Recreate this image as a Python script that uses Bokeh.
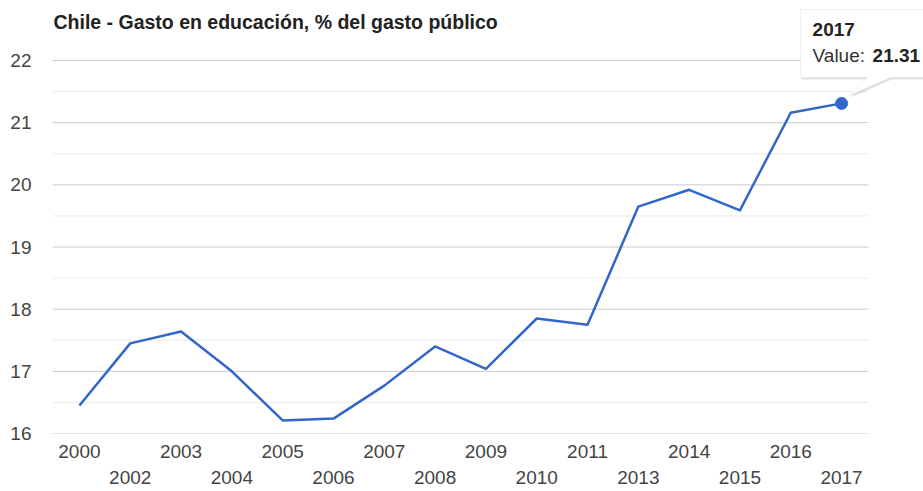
from bokeh.plotting import figure
from bokeh.models import LinearAxis, FixedTicker, Range1d, Label, PolyAnnotation, Grid
from bokeh.embed import file_html
from bokeh.resources import INLINE

# ---- data ----
years = ["2000", "2002", "2003", "2004", "2005", "2006", "2007", "2008",
         "2009", "2010", "2011", "2013", "2014", "2015", "2016", "2017"]
values = [16.45, 17.45, 17.64, 17.00, 16.21, 16.24, 16.77, 17.40,
          17.04, 17.85, 17.75, 19.65, 19.92, 19.59, 21.16, 21.31]
y_ticks = [16, 17, 18, 19, 20, 21, 22]
title_text = "Chile - Gasto en educación, % del gasto público"

# ---- layout ----
W, H = 923, 491
ML, MB = 52, 58            # space for the axes
CHART_R, CHART_T = 55, 60  # margin of the chart area (right / top) inside the frame
fw, fh = W - ML, H - MB    # frame covers everything right/above of the axes
cx0, cx1 = -0.53, len(years) - 1 + 0.53      # chart area x-extent (data)
cy0, cy1 = min(y_ticks), max(y_ticks)        # chart area y-extent (data)
ppx = (fw - CHART_R) / (cx1 - cx0)
ppy = (fh - CHART_T) / (cy1 - cy0)
x0, x1 = cx0, cx1 + CHART_R / ppx
y0, y1 = cy0, cy1 + CHART_T / ppy

FONT = "Liberation Sans"
LINE_COLOR = "#3366CC"
TEXT_SHIFT = 8   # label baseline correction (px, upward)

p = figure(width=W, height=H, x_range=Range1d(x0, x1), y_range=Range1d(y0, y1),
           output_backend="svg", toolbar_location=None,
           x_axis_location=None, y_axis_location=None,
           min_border_left=ML, min_border_right=0,
           min_border_top=0, min_border_bottom=MB)
p.outline_line_color = None
p.background_fill_color = "white"
p.border_fill_color = "white"
p.center = [r for r in p.center if not isinstance(r, Grid)]

# y axis
yax = LinearAxis(ticker=FixedTicker(ticks=y_ticks))
yax.axis_line_color = None
yax.major_tick_line_color = None
yax.minor_tick_line_color = None
yax.major_label_text_font = FONT
yax.major_label_text_font_size = "19px"
yax.major_label_text_color = "#444444"
yax.major_label_standoff = 15
p.add_layout(yax, "left")

# gridlines limited to the chart area
minor = [(a + b) / 2 for a, b in zip(y_ticks[:-1], y_ticks[1:])]
p.segment(x0=[cx0] * len(minor), x1=[cx1] * len(minor), y0=minor, y1=minor,
          line_color="#ebebeb", line_width=1)
p.segment(x0=[cx0] * len(y_ticks), x1=[cx1] * len(y_ticks), y0=y_ticks, y1=y_ticks,
          line_color="#cccccc", line_width=1)

# staggered x axes
idx = list(range(len(years)))
even = [i for i in idx if i % 2 == 0]
odd = [i for i in idx if i % 2 == 1]
for ticks, standoff in ((even, 5), (odd, 4)):
    ax = LinearAxis(ticker=FixedTicker(ticks=ticks))
    ax.major_label_overrides = {i: years[i] for i in ticks}
    ax.axis_line_color = None
    ax.major_tick_line_color = None
    ax.minor_tick_line_color = None
    ax.major_label_text_font = FONT
    ax.major_label_text_font_size = "19px"
    ax.major_label_text_color = "#444444"
    ax.major_label_standoff = standoff
    p.add_layout(ax, "below")

# data line
p.line(idx, values, line_color=LINE_COLOR, line_width=2.5, line_join="round")
last_x, last_y = idx[-1], values[-1]
p.scatter([last_x], [last_y], size=12, fill_color=LINE_COLOR, line_color=LINE_COLOR)

def dx(px):
    return px / ppx

def dy(py):  # screen offset (down positive) -> data offset
    return -py / ppy

# title
p.add_layout(Label(x=cx0 + dx(1), y=cy1 + dy(-31 - TEXT_SHIFT), text=title_text,
                   text_font=FONT, text_font_size="19.5px", text_font_style="bold",
                   text_color="#222222", text_baseline="alphabetic"))

# tooltip callout (offsets in screen pixels relative to highlighted point)
box = [(-41, -94), (100, -94), (100, -26), (49, -26), (8, -8), (26, -26), (-41, -26)]
shadow = PolyAnnotation(xs=[last_x + dx(a + 1) for a, b in box],
                        ys=[last_y + dy(b + 2) for a, b in box],
                        fill_color="#000000", fill_alpha=0.12, line_color=None)
callout = PolyAnnotation(xs=[last_x + dx(a) for a, b in box],
                         ys=[last_y + dy(b) for a, b in box],
                         fill_color="white", fill_alpha=1.0,
                         line_color="#cccccc", line_width=1)
p.add_layout(shadow)
p.add_layout(callout)

p.add_layout(Label(x=last_x + dx(-29), y=last_y + dy(-66 - TEXT_SHIFT), text=years[-1],
                   text_font=FONT, text_font_size="19px", text_font_style="bold",
                   text_color="#222222", text_baseline="alphabetic"))
p.add_layout(Label(x=last_x + dx(-29), y=last_y + dy(-40 - TEXT_SHIFT), text="Value: ",
                   text_font=FONT, text_font_size="19px",
                   text_color="#333333", text_baseline="alphabetic"))
p.add_layout(Label(x=last_x + dx(-29 + 60), y=last_y + dy(-40 - TEXT_SHIFT), text=f"{last_y:.2f}",
                   text_font=FONT, text_font_size="19px", text_font_style="bold",
                   text_color="#222222", text_baseline="alphabetic"))

open("out.html", "w").write(file_html(p, INLINE))
